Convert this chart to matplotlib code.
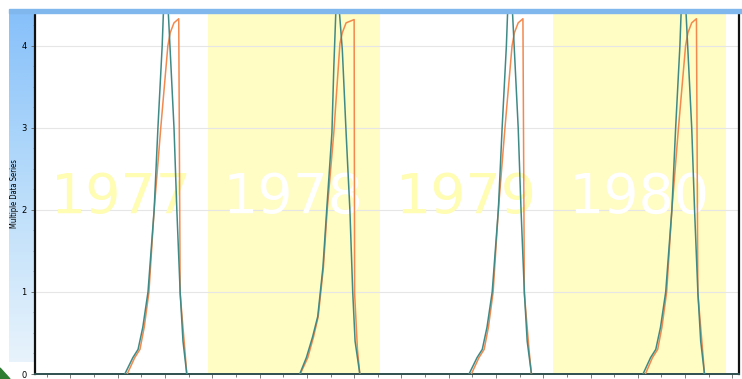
import numpy as np
import matplotlib
matplotlib.use('Agg')
from matplotlib import pyplot as plt
from matplotlib.patches import Rectangle, Polygon

# season spans (day index from 1 Jan 1977)
years = ['1977', '1978', '1979', '1980']
year_start = [0, 365, 730, 1095]
year_end = [365, 730, 1095, 1461]
shaded = [False, True, False, True]

# teal series: (day within year, value)
teal_days = [
    [190, 207, 218, 228, 239, 252, 260, 269, 276, 282, 294, 300, 307, 313, 321],
    [195, 209, 222, 233, 244, 252, 263, 267, 275, 279, 285, 293, 301, 307, 312, 322],
    [188, 205, 216, 226, 237, 250, 258, 267, 274, 280, 292, 298, 305, 311, 320],
    [191, 207, 218, 228, 239, 252, 260, 269, 276, 282, 294, 300, 307, 313, 321],
]
teal_vals = [
    [0, 0.2, 0.3, 0.57, 1.0, 2.0, 3.0, 4.0, 5.1, 4.4, 3.0, 2.0, 1.0, 0.4, 0],
    [0, 0.2, 0.45, 0.7, 1.3, 2.0, 2.94, 3.74, 5.0, 4.4, 3.95, 2.94, 2.0, 1.0, 0.4, 0],
    [0, 0.2, 0.3, 0.57, 1.0, 2.0, 3.0, 4.0, 5.1, 4.4, 3.0, 2.0, 1.0, 0.4, 0],
    [0, 0.2, 0.3, 0.57, 1.0, 2.0, 3.0, 4.0, 5.1, 4.4, 3.0, 2.0, 1.0, 0.4, 0],
]

# orange series: (day within year, value)
orange_days = [
    [195, 211, 222, 231, 241, 252, 266, 281, 286, 294, 304, 307, 317, 321],
    [196, 212, 224, 234, 245, 253, 267, 280, 285, 293, 310, 311, 317, 322],
    [193, 209, 220, 229, 239, 250, 264, 279, 284, 292, 302, 305, 315, 320],
    [196, 211, 222, 231, 241, 252, 266, 281, 286, 294, 304, 307, 317, 321],
]
orange_vals = [
    [0, 0.2, 0.3, 0.57, 1.0, 2.0, 3.0, 4.0, 4.16, 4.28, 4.33, 0.98, 0.29, 0],
    [0, 0.2, 0.45, 0.7, 1.3, 2.0, 2.94, 4.03, 4.16, 4.28, 4.32, 0.98, 0.3, 0],
    [0, 0.2, 0.3, 0.57, 1.0, 2.0, 3.0, 4.0, 4.16, 4.28, 4.33, 0.98, 0.29, 0],
    [0, 0.2, 0.3, 0.57, 1.0, 2.0, 3.0, 4.0, 4.16, 4.28, 4.33, 0.98, 0.29, 0],
]

W, H = 742, 379
fig = plt.figure(figsize=(W / 100, H / 100), dpi=100)

def fx(px):
    return px / W

def fy(py):
    return 1 - py / H

# blue panel down the left and thin bar across the top
grad = np.linspace(0, 1, 256).reshape(-1, 1)
cmap = matplotlib.colors.LinearSegmentedColormap.from_list(
    'panel', ['#86c0fa', '#b8dcfa', '#e8f3fc'])
bax = fig.add_axes([fx(9), fy(362), fx(35 - 9), fy(9) - fy(362)])
bax.imshow(grad, aspect='auto', cmap=cmap, extent=[0, 1, 0, 1])
bax.axis('off')
fig.patches.append(Rectangle((fx(9), fy(13)), 1, fy(9) - fy(13),
                             transform=fig.transFigure, color='#80b8ee', zorder=0))
fig.patches.append(Polygon([(0, 0), (fx(10), 0), (0, fy(368))], closed=True,
                           transform=fig.transFigure, color='#2e7d32', zorder=0))

ax = fig.add_axes([fx(35), fy(374), fx(739 - 35), fy(13) - fy(374)])
ax.set_xlim(0, 1489)
ax.set_ylim(0, 4.4)

for s, e, sh in zip(year_start, year_end, shaded):
    if sh:
        ax.axvspan(s, e, color='#fffcc4', lw=0, zorder=0)

for y in range(1, 5):
    ax.axhline(y, color='#e6e6e6', lw=0.8, zorder=1)

for name, s, e, sh in zip(years, year_start, year_end, shaded):
    ax.text((s + e) / 2, 2.15, name, ha='center', va='center', fontsize=40,
            family='DejaVu Sans', color='white' if sh else '#fffcb4',
            zorder=2)

for i, s in enumerate(year_start):
    ax.plot(np.array(orange_days[i]) + s, orange_vals[i], color='#f2894e',
            lw=1.1, zorder=3)
    ax.plot(np.array(teal_days[i]) + s, teal_vals[i], color='#3f8a86',
            lw=1.1, zorder=4)

ax.set_yticks(range(5))
ax.set_yticks(np.arange(0, 4.4, 0.25), minor=True)
ax.set_xticks(np.arange(75, 1489, 100))
ax.set_xticks(np.arange(25, 1489, 100), minor=True)
ax.set_xticklabels([])
ax.tick_params(axis='y', labelsize=6, length=3, width=0.6, pad=3,
               color='#666666')
ax.tick_params(axis='y', which='minor', length=1.5, width=0.5, color='#888888')
ax.tick_params(axis='x', which='both', length=3, width=0.6, color='#666666')
ax.tick_params(axis='x', which='minor', length=2)
ax.set_ylabel('Multiple Data Series', fontsize=5.5, labelpad=2,
              family='DejaVu Sans', fontstretch='condensed')

for side in ['left', 'right']:
    ax.spines[side].set_color('#111111')
    ax.spines[side].set_linewidth(1.6)
ax.spines['top'].set_color('#555555')
ax.spines['top'].set_linewidth(1.2)
ax.spines['bottom'].set_color('#2f4f4f')
ax.spines['bottom'].set_linewidth(1.4)

fig.savefig('out.png', dpi=100)
